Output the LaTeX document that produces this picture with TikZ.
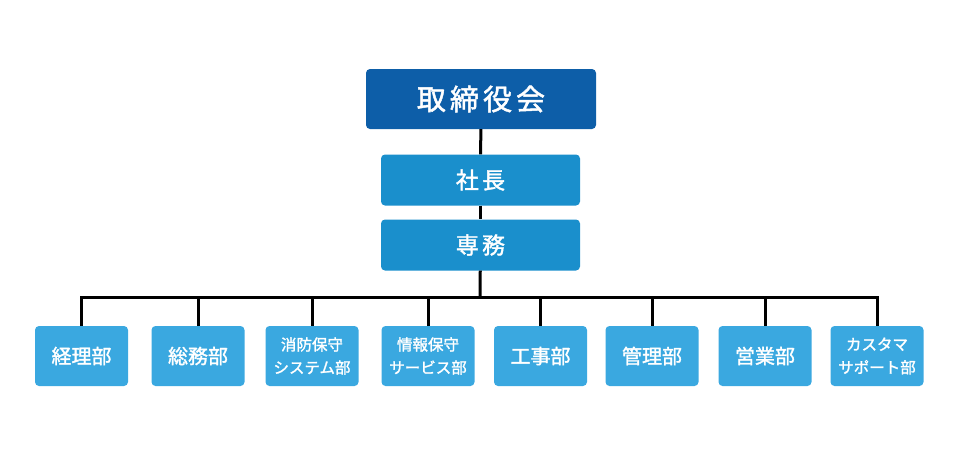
\documentclass[tikz,border=0pt]{standalone}
\usepackage{fontspec}
\setmainfont{Noto Sans CJK JP}
\newfontfamily\jpwide[LetterSpace=14,FakeBold=1.6]{Noto Sans CJK JP}
\newfontfamily\jpmed[FakeBold=1.6]{Noto Sans CJK JP}
\usepackage{xcolor}
\usetikzlibrary{positioning}
\definecolor{boardblue}{HTML}{0D5EA8}
\definecolor{execblue}{HTML}{1A8FCC}
\definecolor{deptblue}{HTML}{3AA8E0}

\begin{document}
\begin{tikzpicture}[
    x=1pt, y=-1pt,
    board/.style={fill=boardblue, rounded corners=4pt, text=white, minimum width=230pt,
                minimum height=60pt, font=\jpwide\fontsize{29}{32}\selectfont},
    exec/.style={fill=execblue, rounded corners=4pt, text=white, minimum width=199pt,
                minimum height=51pt, font=\jpwide\fontsize{23}{26}\selectfont},
    dept/.style={fill=deptblue, rounded corners=4pt, text=white, minimum width=93pt,
                minimum height=60pt, align=center, inner sep=0pt},
    big/.style={font=\jpmed\fontsize{20}{24}\selectfont},
    small/.style={font=\jpmed\fontsize{15.5}{23}\selectfont},
    link/.style={line width=3pt, black}
  ]
    \useasboundingbox (0,0) rectangle (961,459);

    \node[board] (board) at (481,99)   {取締役会};
    \node[exec]  (pres)  at (480.5,180) {社長};
    \node[exec]  (senmu) at (480.5,245) {専務};

    \coordinate (bar) at (480,297);

    \node[dept,big]   (keiri)   at (81.5,356)  {経理部};
    \node[dept,big]   (somu)    at (198,356)   {総務部};
    \node[dept,small] (shobo)   at (312,356)   {消防保守\\システム部};
    \node[dept,small] (joho)    at (428,356)   {情報保守\\サービス部};
    \node[dept,big]   (koji)    at (540.5,356) {工事部};
    \node[dept,big]   (kanri)   at (652,356)   {管理部};
    \node[dept,big]   (eigyo)   at (765,356)   {営業部};
    \node[dept,small] (support) at (877,356)   {カスタマ\\サポート部};

    % connectors
    \draw[link] (board) -- (pres);
    \draw[link] (pres) -- (senmu);
    \draw[link] (senmu) -- (bar);
    \foreach \d in {keiri,somu,shobo,joho,koji,kanri,eigyo,support}
      \draw[link] (bar) -| (\d.north);
\end{tikzpicture}
\end{document}
